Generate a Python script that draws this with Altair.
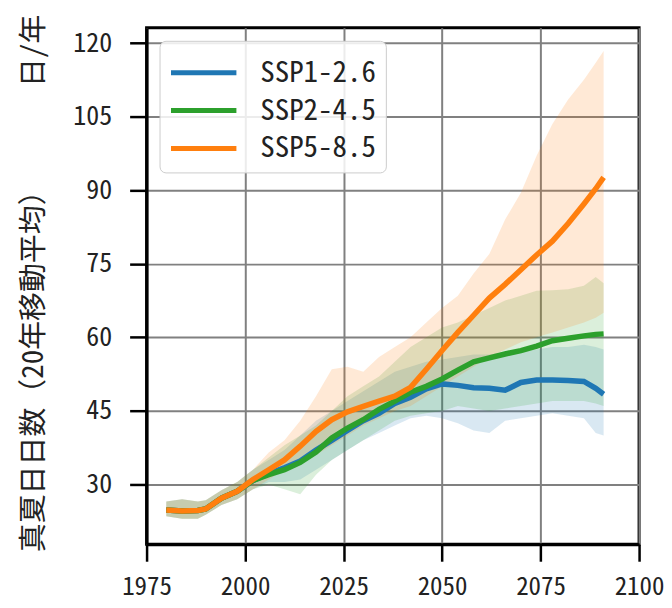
import altair as alt
import pandas as pd

# ---- data ----
years = [1980, 1984, 1988, 1990, 1994, 1998, 2002, 2006, 2010, 2014, 2018, 2022, 2026, 2030,
         2034, 2038, 2042, 2046, 2050, 2054, 2058, 2062, 2066, 2070, 2074, 2078, 2082, 2086,
         2089, 2091]

scenarios = ["SSP1-2.6", "SSP2-4.5", "SSP5-8.5"]
colors = ["#1f77b4", "#2ca02c", "#ff7f0e"]

ssp126_mean = [24.8, 24.6, 24.7, 25.0, 27.2, 28.6, 30.8, 32.2, 33.4, 34.8, 37.0, 39.0, 41.0, 43.0,
               44.5, 46.5, 47.8, 49.5, 50.5, 50.2, 49.7, 49.6, 49.2, 50.8, 51.3, 51.3, 51.2, 51.0,
               49.6, 48.4]
ssp126_lo = [23.5, 23.0, 23.0, 23.8, 25.8, 27.0, 29.0, 30.5, 30.5, 31.0, 33.0, 35.0, 37.0, 39.0,
             40.5, 42.0, 43.5, 44.0, 43.5, 42.5, 41.0, 40.5, 43.0, 43.5, 44.0, 44.5, 44.0, 43.5,
             40.5, 40.0]
ssp126_hi = [26.5, 27.0, 26.5, 26.8, 28.8, 30.5, 33.0, 35.0, 37.0, 40.0, 43.0, 45.0, 47.0, 49.0,
             51.0, 53.0, 54.0, 55.0, 55.5, 56.0, 56.5, 56.5, 57.0, 57.0, 57.5, 58.0, 58.0, 58.5,
             58.0, 57.5]

ssp245_mean = [24.8, 24.6, 24.7, 25.0, 27.2, 28.6, 30.8, 32.0, 33.0, 34.5, 36.6, 39.5, 41.5, 43.2,
               45.3, 47.0, 48.8, 50.0, 51.5, 53.3, 55.0, 55.8, 56.6, 57.3, 58.2, 59.3, 59.8, 60.3,
               60.6, 60.7]
ssp245_lo = [23.5, 23.0, 23.0, 23.8, 25.8, 27.0, 29.0, 30.0, 29.0, 28.0, 32.0, 35.0, 37.0, 39.0,
             41.0, 43.0, 44.0, 44.5, 45.0, 46.0, 45.5, 45.0, 45.5, 46.0, 46.5, 47.0, 47.0, 47.0,
             46.5, 46.0]
ssp245_hi = [26.5, 27.0, 26.5, 26.8, 28.8, 30.5, 33.0, 35.5, 38.0, 40.0, 42.0, 45.0, 48.0, 50.0,
             52.0, 55.0, 58.0, 60.0, 62.0, 63.0, 64.5, 66.0, 67.5, 68.5, 69.5, 69.6, 69.8, 70.5,
             72.3, 71.0]

ssp585_mean = [24.8, 24.6, 24.7, 25.0, 27.2, 28.6, 31.0, 33.0, 35.0, 37.8, 40.8, 43.2, 44.8, 45.9,
               47.0, 48.0, 49.8, 53.5, 57.3, 61.0, 64.5, 68.0, 70.8, 73.8, 76.8, 79.6, 83.2, 87.2,
               90.3, 92.6]
ssp585_lo = [23.5, 23.0, 23.0, 23.8, 25.8, 27.0, 29.0, 31.0, 33.0, 34.0, 36.0, 38.0, 40.0, 42.0,
             43.5, 45.0, 46.0, 48.0, 50.0, 52.0, 54.0, 56.0, 57.5, 59.0, 60.0, 61.0, 62.0, 63.0,
             64.0, 65.0]
ssp585_hi = [26.5, 27.0, 26.5, 26.8, 28.8, 30.5, 33.0, 36.5, 39.0, 43.0, 48.0, 53.5, 54.0, 53.0,
             56.0, 58.0, 60.0, 63.0, 66.0, 68.5, 73.0, 77.0, 84.0, 89.5, 97.0, 103.5, 108.5, 112.5,
             116.0, 118.4]

x_ticks = [1975, 2000, 2025, 2050, 2075, 2100]
y_ticks = [30, 45, 60, 75, 90, 105, 120]

y_title = "真夏日日数（20年移動平均）"
unit_title = "日/年"

# ---- build long table ----
series = [
    (scenarios[0], ssp126_mean, ssp126_lo, ssp126_hi),
    (scenarios[1], ssp245_mean, ssp245_lo, ssp245_hi),
    (scenarios[2], ssp585_mean, ssp585_lo, ssp585_hi),
]
rows = []
for name, m, lo, hi in series:
    for yr, a, b, c in zip(years, m, lo, hi):
        rows.append({"year": yr, "scenario": name, "band": name, "mean": a, "lo": b, "hi": c})
df = pd.DataFrame(rows)

FONT = "Noto Sans Mono CJK JP, Noto Sans CJK JP"

xscale = alt.Scale(domain=[1975, 2100], nice=False, zero=False)
yscale = alt.Scale(domain=[17.8, 123.1], nice=False, zero=False)

xaxis = alt.Axis(values=x_ticks, format="d", title=None, grid=True,
                 labelFont=FONT, labelFontSize=25, labelColor="#222", labelPadding=13,
                 tickSize=17, tickWidth=2.5, tickColor="black",
                 domainColor="black", domainWidth=3,
                 gridColor="#808080", gridWidth=2, labelFlush=False)
yaxis = alt.Axis(values=y_ticks, title=y_title, grid=True,
                 labelFont=FONT, labelFontSize=26, labelColor="#222", labelPadding=18,
                 tickSize=17, tickWidth=2.5, tickColor="black",
                 domainColor="black", domainWidth=3,
                 gridColor="#808080", gridWidth=2,
                 titleFont=FONT, titleFontSize=29, titleFontWeight="normal", titleColor="#222",
                 titleAngle=270, titleAlign="center", titleBaseline="middle",
                 titleX=-113, titleY=337)

# band colours: same palette, data-driven domain (kept separate from the line legend)
bands = alt.Chart(df).mark_area(opacity=0.17).encode(
    x=alt.X("year:Q", scale=xscale, axis=xaxis),
    y=alt.Y("lo:Q", scale=yscale, axis=yaxis),
    y2="hi:Q",
    fill=alt.Fill("band:N", scale=alt.Scale(range=colors), legend=None),
)

lines = alt.Chart(df).mark_line(strokeWidth=5.5).encode(
    x=alt.X("year:Q", scale=xscale, axis=xaxis),
    y=alt.Y("mean:Q", scale=yscale, axis=yaxis),
    color=alt.Color(
        "scenario:N",
        scale=alt.Scale(domain=scenarios, range=colors),
        legend=alt.Legend(
            title=None, orient="none", legendX=13, legendY=13,
            symbolType="M-1,0H2.2", symbolSize=1681, symbolStrokeWidth=5,
            labelFont=FONT, labelFontSize=29, labelColor="#222", labelOffset=46,
            fillColor="rgba(255,255,255,0.85)", strokeColor="#cccccc",
            cornerRadius=6, padding=9, rowPadding=0,
        ),
    ),
)

unit = alt.Chart(pd.DataFrame({"t": [unit_title]})).mark_text(
    font=FONT, fontSize=29, angle=270, color="#222", align="center", baseline="middle"
).encode(text="t:N", x=alt.value(-113), y=alt.value(23))

chart = alt.layer(bands, lines, unit).properties(
    width=494, height=518,
    autosize=alt.AutoSizeParams(type="none"),
    padding={"left": 139, "top": 19, "right": 25, "bottom": 60},
).configure_view(stroke="black", strokeWidth=3)

chart.save("out.html", embed_options={"renderer": "svg", "actions": False})
